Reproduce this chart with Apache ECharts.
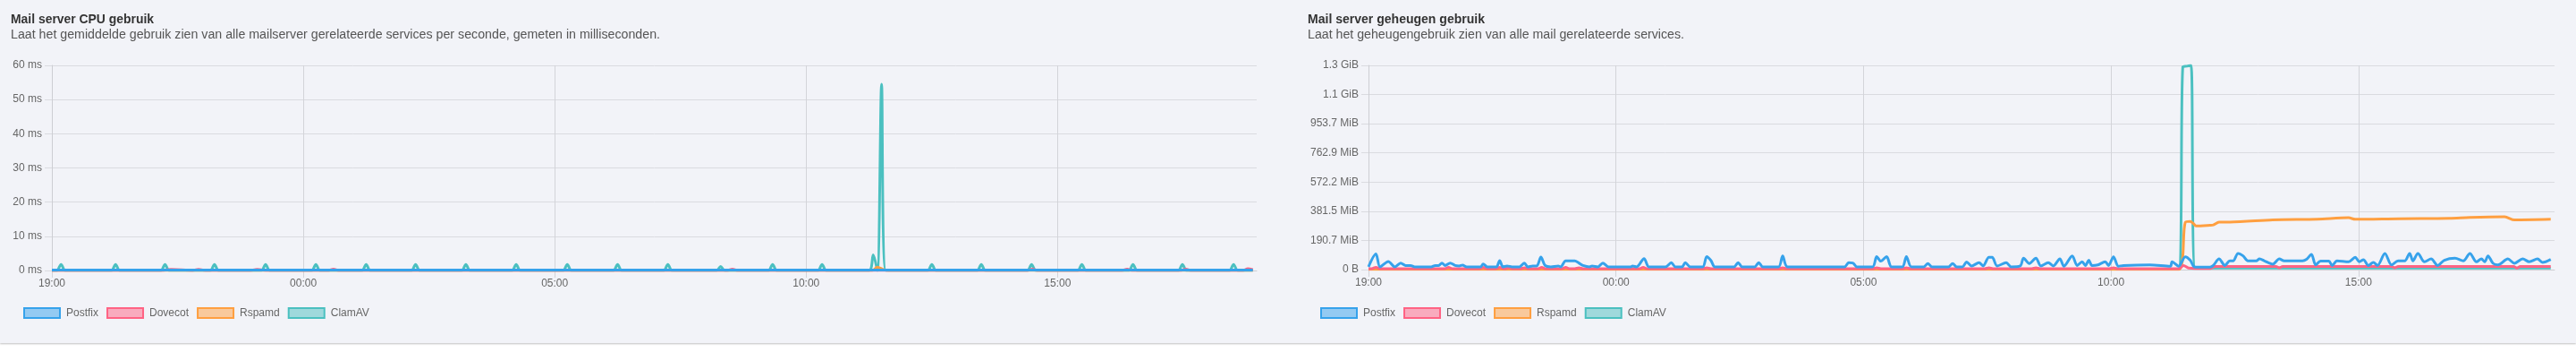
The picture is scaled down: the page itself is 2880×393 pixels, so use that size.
<!DOCTYPE html>
<html><head><meta charset="utf-8">
<script src="https://cdn.jsdelivr.net/npm/echarts@6/dist/echarts.min.js"></script>
<style>
html,body{margin:0;padding:0;background:#fff;}
#wrap{position:relative;width:2880px;height:393px;overflow:hidden;background:#fff;}
#panel{position:absolute;left:0;top:0;width:2880px;height:383px;background:#f2f3f8;box-shadow:0 1px 2px rgba(0,0,0,0.25);}
#chart{position:absolute;left:0;top:0;width:2880px;height:393px;}
</style></head><body>
<div id="wrap"><div id="panel"></div><div id="chart"></div></div>
<script>
// ---------- DATA ----------
// x values: minutes after 19:00 (24 h window, 5-minute samples)
const START_HOUR = 19;
const X_MAX = 1437.6;
const X_INTERVAL = 300;            // tick every 5 hours: 19:00, 00:00, 05:00, 10:00, 15:00
const seriesNames = ['Postfix', 'Dovecot', 'Rspamd', 'ClamAV'];

const cpuTitle = 'Mail server CPU gebruik';
const cpuSubtitle = 'Laat het gemiddelde gebruik zien van alle mailserver gerelateerde services per seconde, gemeten in milliseconden.';
const memTitle = 'Mail server geheugen gebruik';
const memSubtitle = 'Laat het geheugengebruik zien van alle mail gerelateerde services.';

// CPU chart (ms); y ticks 0..60 step 10
const cpuYMax = 60, cpuYInterval = 10;
const cpuPostfix = [[0,0.15],[300,0.1],[600,0.15],[900,0.1],[1200,0.15],[1433,0.1]];
const cpuDovecot = [[0,0],[130,0],[142,0.3],[155,0.2],[166,0],[175,0.3],[185,0],[235,0],[245,0.3],[258,0],[330,0],[336,0.4],[342,0],[806,0],[812,0.4],[818,0],[1164,0],[1170,0.4],[1176,0],[1277,0],[1283,0.4],[1289,0],[1347,0],[1353,0.4],[1359,0],[1421,0],[1427,0.5],[1433,0.3]];
const cpuRspamd = [[0,0],[979,0],[985,1.0],[992,0.3],[999,0],[1433,0]];
const cpuClamAV = [[0,0],[6,0],[11,1.8],[16,0],[71,0],[76,1.8],[81,0],[130,0],[135,1.8],[140,0],[189,0],[194,1.8],[199,0],[250,0],[255,1.8],[260,0],[310,0],[315,1.8],[320,0],[370,0],[375,1.8],[380,0],[429,0],[434,1.8],[439,0],[489,0],[494,1.8],[499,0],[549,0],[554,1.8],[559,0],[610,0],[615,1.8],[620,0],[670,0],[675,1.8],[680,0],[730,0],[735,1.8],[740,0],[793,0],[798,1.2],[803,0],[855,0],[860,1.8],[865,0],[914,0],[919,1.8],[924,0],[975,0],[980,4.6],[985,0],[990,54.5],[995,0],[1045,0],[1050,1.8],[1055,0],[1104,0],[1109,1.8],[1114,0],[1164,0],[1169,1.8],[1174,0],[1224,0],[1229,1.8],[1234,0],[1285,0],[1290,1.8],[1295,0],[1344,0],[1349,1.8],[1354,0],[1405,0],[1410,1.8],[1415,0],[1433,0]];

// Memory chart (values in MiB); y ticks every 200 MB (bytes) up to 1.4 GB
const memYMaxBytes = 1.4e9, memYIntervalBytes = 2e8;
const memPostfix = [[0,18],[9,102],[14,18],[24,53],[32,18],[39,43],[45,27],[51,27],[56,18],[76,18],[81,27],[85,27],[89,43],[93,27],[99,43],[105,27],[110,24],[114,30],[119,18],[136,18],[139,37],[144,18],[155,18],[159,59],[163,18],[168,24],[174,18],[183,18],[189,43],[193,18],[199,24],[204,24],[209,82],[214,27],[221,18],[230,24],[233,18],[239,57],[250,57],[255,43],[260,27],[268,18],[271,24],[278,18],[284,43],[291,18],[318,18],[320,24],[325,18],[334,72],[340,18],[360,18],[367,45],[372,18],[380,18],[384,45],[390,18],[405,18],[410,85],[415,60],[420,18],[443,18],[448,45],[453,18],[468,18],[473,45],[478,18],[497,18],[502,90],[508,18],[577,18],[582,45],[587,43],[592,18],[611,18],[616,85],[621,55],[628,85],[634,18],[647,18],[652,85],[658,18],[673,18],[678,40],[683,18],[703,18],[708,40],[713,18],[720,18],[725,50],[731,24],[740,45],[745,24],[752,80],[756,80],[762,24],[773,45],[779,18],[790,24],[794,75],[801,40],[809,75],[815,24],[824,45],[830,24],[838,70],[843,22],[853,90],[859,27],[865,51],[869,27],[873,61],[877,27],[884,31],[893,51],[897,27],[903,84],[909,22],[915,27],[947,31],[972,22],[974,51],[982,22],[990,84],[996,61],[1000,22],[1003,16],[1020,16],[1024,27],[1031,70],[1038,27],[1044,57],[1048,57],[1054,106],[1060,90],[1066,57],[1076,57],[1080,70],[1086,57],[1096,35],[1104,70],[1110,57],[1132,57],[1137,67],[1143,100],[1148,31],[1154,55],[1164,55],[1168,27],[1174,57],[1188,51],[1196,80],[1201,51],[1206,65],[1212,27],[1218,47],[1223,27],[1232,106],[1240,31],[1248,57],[1256,57],[1262,106],[1266,57],[1272,106],[1280,51],[1288,70],[1296,27],[1304,61],[1317,74],[1327,57],[1335,106],[1343,51],[1349,70],[1353,51],[1357,90],[1363,41],[1369,31],[1381,70],[1389,41],[1399,70],[1407,51],[1417,70],[1423,47],[1433,67]];
const memDovecot = [[0,6],[4,6],[9,15],[14,6],[92,6],[97,14],[102,6],[134,6],[139,14],[144,6],[154,6],[159,14],[164,6],[166,6],[170,12],[175,6],[184,6],[189,12],[194,6],[205,6],[210,14],[215,6],[234,6],[239,14],[244,6],[250,6],[255,12],[260,6],[328,6],[333,14],[338,6],[405,6],[410,12],[415,6],[497,6],[502,12],[507,6],[611,6],[616,12],[621,6],[647,6],[652,12],[657,6],[747,6],[752,12],[757,6],[804,6],[809,12],[814,6],[898,6],[903,12],[908,6],[982,6],[988,27],[994,10],[1003,8],[1020,8],[1026,20],[1100,20],[1104,12],[1108,20],[1240,20],[1244,12],[1248,20],[1388,20],[1392,10],[1396,20],[1433,20]];
const memRspamd = [[0,1],[982,1],[990,309],[996,315],[1000,300],[1003,286],[1020,290],[1024,292],[1031,311],[1044,311],[1096,325],[1150,330],[1188,339],[1196,329],[1250,333],[1310,335],[1335,341],[1377,345],[1389,325],[1433,329]];
const memClamAV = [[0,3],[982,3],[987,1325],[992,1330],[997,1335],[1002,10],[1433,10]];

// ---------- STYLE ----------
const FONT = '"Liberation Sans", Arial, Helvetica, sans-serif';
const LINE_COLORS = ['#36a2eb', '#ff6384', '#ff9f40', '#4bc0c0'];
const FILL_COLORS = ['rgba(54,162,235,0.5)', 'rgba(255,99,132,0.5)', 'rgba(255,159,64,0.5)', 'rgba(75,192,192,0.5)'];
const HGRID_C = '#dadbe0';
const VGRID_C = '#d3d4d9';
const AXIS_C = '#cdced3';
const Z_ORDER = [6, 5, 4, 3];

function fmtTime(v) {
  const m = ((START_HOUR * 60 + Math.round(v)) % 1440 + 1440) % 1440;
  const h = Math.floor(m / 60), mm = m % 60;
  return String(h).padStart(2, '0') + ':' + String(mm).padStart(2, '0');
}
function fmtBytes(v) {
  if (v === 0) return '0 B';
  const mib = v / 1048576;
  if (mib >= 1024) return (mib / 1024).toFixed(1) + ' GiB';
  return mib.toFixed(1) + ' MiB';
}
function xAxisCfg(gi) {
  return {
    type: 'value', gridIndex: gi, min: 0, max: X_MAX, interval: X_INTERVAL,
    axisLine: { show: true, onZero: false, lineStyle: { color: AXIS_C, width: 1 } },
    axisTick: { show: true, length: 8, lineStyle: { color: VGRID_C } },
    axisLabel: { show: true, color: '#666', fontSize: 12, fontFamily: FONT, margin: 9, showMaxLabel: false, showMinLabel: true, formatter: fmtTime },
    splitLine: { show: true, showMaxLine: false, lineStyle: { color: VGRID_C, width: 1 } }
  };
}
function yAxisCfg(gi, max, interval, formatter) {
  return {
    type: 'value', gridIndex: gi, min: 0, max: max, interval: interval,
    axisLine: { show: true, lineStyle: { color: AXIS_C, width: 1 } },
    axisTick: { show: true, length: 8, lineStyle: { color: HGRID_C } },
    axisLabel: { show: true, color: '#666', fontSize: 12, fontFamily: FONT, margin: 11, formatter: formatter },
    splitLine: { show: true, lineStyle: { color: HGRID_C, width: 1 } }
  };
}
function legendCfg(left, top) {
  return {
    left: left, top: top, orient: 'horizontal', itemWidth: 40, itemHeight: 11, itemGap: 9,
    icon: 'rect', selectedMode: false,
    textStyle: { color: '#666', fontSize: 12, fontFamily: FONT, padding: [0, 0, 0, 2] },
    data: seriesNames.map((n, i) => ({ name: n, itemStyle: { color: FILL_COLORS[i], borderColor: LINE_COLORS[i], borderWidth: 2 } }))
  };
}
function lineSeries(name, i, gi, data) {
  return {
    type: 'line', name: name, xAxisIndex: gi, yAxisIndex: gi, data: data,
    showSymbol: false, symbol: 'none', smooth: 0.3, z: Z_ORDER[i],
    lineStyle: { color: LINE_COLORS[i], width: 3 },
    itemStyle: { color: LINE_COLORS[i] },
    emphasis: { disabled: true }
  };
}
const measureCtx = document.createElement('canvas').getContext('2d');
function headText(text, x, y, font, color, targetW) {
  measureCtx.font = font;
  const w = measureCtx.measureText(text).width;
  return { type: 'text', x: x, y: y, scaleX: targetW / w, silent: true,
    style: { text: text, font: font, fill: color, verticalAlign: 'middle', align: 'left' } };
}
const MiB = 1048576;
const toBytes = arr => arr.map(p => [p[0], p[1] * MiB]);

const cpuData = [cpuPostfix, cpuDovecot, cpuRspamd, cpuClamAV];
const memData = [memPostfix, memDovecot, memRspamd, memClamAV].map(toBytes);

const option = {
  animation: false,
  backgroundColor: 'transparent',
  tooltip: { show: false },
  grid: [
    { left: 58, top: 73, width: 1347, height: 229, containLabel: false, outerBoundsMode: 'none' },
    { left: 1530, top: 73, width: 1326, height: 228, containLabel: false, outerBoundsMode: 'none' }
  ],
  xAxis: [xAxisCfg(0), xAxisCfg(1)],
  yAxis: [
    yAxisCfg(0, cpuYMax, cpuYInterval, v => v + ' ms'),
    yAxisCfg(1, memYMaxBytes, memYIntervalBytes, fmtBytes)
  ],
  legend: [legendCfg(21, 338), legendCfg(1471, 338)],
  graphic: [
    headText(cpuTitle, 12, 22, 'bold 14px "Liberation Sans"', '#333', 160),
    headText(cpuSubtitle, 12, 39.5, '14px "Liberation Sans"', '#555', 726),
    headText(memTitle, 1462, 22, 'bold 14px "Liberation Sans"', '#333', 198),
    headText(memSubtitle, 1462, 39.5, '14px "Liberation Sans"', '#555', 421)
  ],
  series: [
    ...seriesNames.map((n, i) => lineSeries(n, i, 0, cpuData[i])),
    ...seriesNames.map((n, i) => lineSeries(n, i, 1, memData[i]))
  ]
};
const chart = echarts.init(document.getElementById('chart'), null, { renderer: 'canvas' });
chart.setOption(option);
</script>
</body></html>
